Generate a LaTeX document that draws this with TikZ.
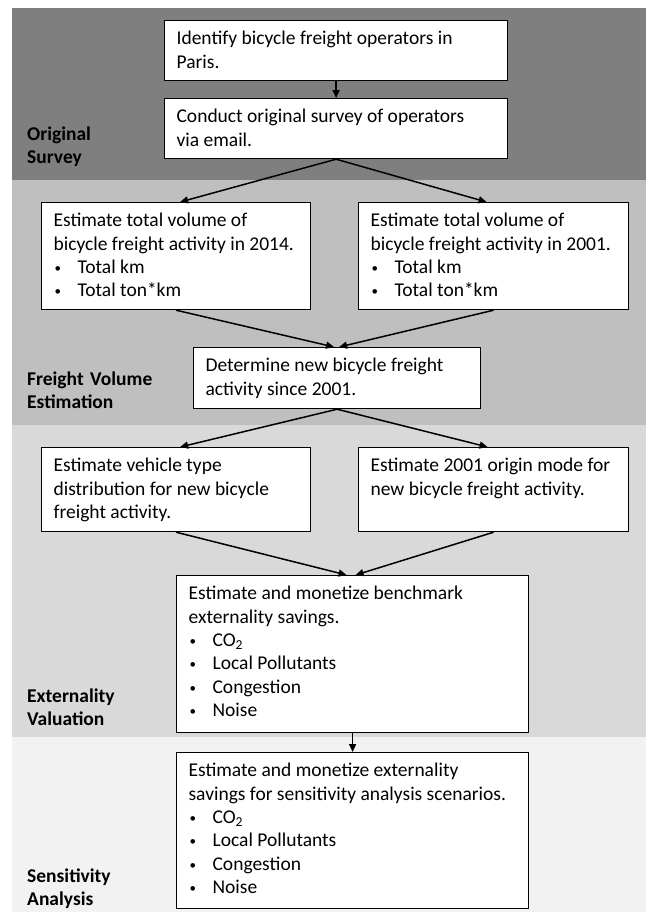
\documentclass[tikz,border=0pt]{standalone}
\usepackage{fontspec}
\setmainfont{Carlito}
\usetikzlibrary{arrows.meta}

\definecolor{surveygray}{HTML}{7F7F7F}
\definecolor{volumegray}{HTML}{BFBFBF}
\definecolor{valuegray}{HTML}{D9D9D9}
\definecolor{sensgray}{HTML}{F2F2F2}

% box text: width, height, lines
\newcommand{\boxtext}[3]{\parbox[c][#2][t]{#1}{\raggedright\strut #3}}
\newcommand{\bul}{\makebox[24pt][l]{\hspace{1pt}\raisebox{1pt}{\fontsize{13}{13}\selectfont\textbullet}}}

\begin{document}
\begin{tikzpicture}[x=1pt, y=-1pt, >={Triangle[length=8pt,width=7pt]},
  every node/.style={font=\fontsize{19.5}{23.3}\selectfont},
  stepbox/.style={draw, fill=white, line width=1.2pt, inner xsep=12pt, inner ysep=8pt, anchor=north west},
  flow/.style={->, line width=1.5pt},
  phase/.style={anchor=base west, text width=170pt, align=left, inner sep=0pt, font=\bfseries\fontsize{19.5}{23}\selectfont}]
\useasboundingbox (0,0) rectangle (646,913);

% phase bands
\fill[surveygray] (12,8) rectangle (646,180);
\fill[volumegray] (12,180) rectangle (646,425);
\fill[valuegray] (12,425) rectangle (646,737);
\fill[sensgray] (12,737) rectangle (646,912);

\node[phase] (survey) at (27,140) {Original\\Survey};
\node[phase] (volume) at (27,385) {Freight Volume\\Estimation};
\node[phase] (value) at (27,702) {Externality\\Valuation};
\node[phase] (sens) at (27,882) {Sensitivity\\Analysis};

% steps
\node[stepbox] (identify) at (164,20) {\boxtext{319pt}{44pt}{Identify bicycle freight operators in\\Paris.}};
\node[stepbox] (conduct) at (164,98) {\boxtext{319pt}{44pt}{Conduct original survey of operators\\via email.}};
\node[stepbox] (vol14) at (41,202) {\boxtext{245pt}{91pt}{Estimate total volume of\\bicycle freight activity in 2014.\\\bul Total km\\\bul Total ton*km}};
\node[stepbox] (vol01) at (358,202) {\boxtext{246pt}{91pt}{Estimate total volume of\\bicycle freight activity in 2001.\\\bul Total km\\\bul Total ton*km}};
\node[stepbox] (newact) at (193,347) {\boxtext{263pt}{45pt}{Determine new bicycle freight\\activity since 2001.}};
\node[stepbox] (vehicle) at (41,447) {\boxtext{245pt}{68pt}{Estimate vehicle type\\distribution for new bicycle\\freight activity.}};
\node[stepbox] (origin) at (358,447) {\boxtext{246pt}{68pt}{Estimate 2001 origin mode for\\new bicycle freight activity.}};
\node[stepbox] (bench) at (176,575) {\boxtext{328pt}{141pt}{Estimate and monetize benchmark\\externality savings.\\\bul CO\textsubscript{2}\\\bul Local Pollutants\\\bul Congestion\\\bul Noise}};
\node[stepbox] (scen) at (176,752) {\boxtext{328pt}{140pt}{Estimate and monetize externality\\savings for sensitivity analysis scenarios.\\\bul CO\textsubscript{2}\\\bul Local Pollutants\\\bul Congestion\\\bul Noise}};

% connectors
\draw[flow] (identify.south) -- (conduct.north);
\draw[flow] (conduct.south) -- ([xshift=4pt]vol14.north);
\draw[flow] (conduct.south) -- ([xshift=-7pt]vol01.north);
\draw[flow] (vol14.south) -- ([xshift=-3pt]newact.north);
\draw[flow] (vol01.south) -- ([xshift=2pt]newact.north);
\draw[flow] (newact.south) -- ([xshift=4pt]vehicle.north);
\draw[flow] (newact.south) -- ([xshift=-6pt]origin.north);
\draw[flow] (vehicle.south) -- ([xshift=-6pt]bench.north);
\draw[flow] (origin.south) -- ([xshift=3pt]bench.north);
\draw[flow] (bench.south) -- (scen.north);
\end{tikzpicture}
\end{document}
